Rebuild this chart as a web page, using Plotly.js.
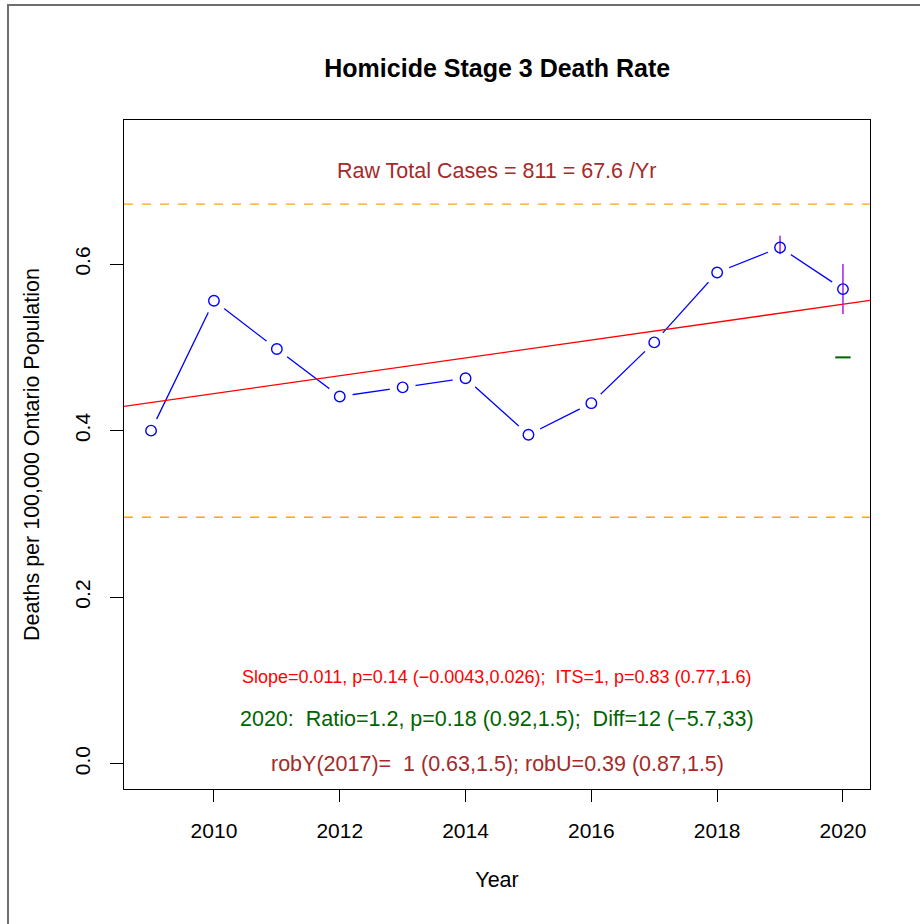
<!DOCTYPE html>
<html>
<head>
<meta charset="utf-8">
<script src="https://cdn.plot.ly/plotly-3.0.1.min.js"></script>
<style>html,body{margin:0;padding:0;background:#fff;}</style>
</head>
<body>
<div id="chart" style="width:920px;height:924px;"></div>
<script>
// ---- data ----
const years = [2009, 2010, 2011, 2012, 2013, 2014, 2015, 2016, 2017, 2018, 2019, 2020];
const rates = [0.400, 0.556, 0.498, 0.441, 0.452, 0.463, 0.395, 0.433, 0.506, 0.590, 0.620, 0.570];
const trendYears = [2008.57, 2020.43];
const trendValues = [0.4291, 0.5564];
const limitLow = 0.296;
const limitHigh = 0.672;
const ciYears = [2019, 2020];
const ciLow = [0.612, 0.540];
const ciHigh = [0.634, 0.600];
const expectedYear = [2020];
const expectedValue = [0.488];
const tickYears = [2010, 2012, 2014, 2016, 2018, 2020];
const tickLabels = ['2010', '2012', '2014', '2016', '2018', '2020'];
const yTicks = [0.0, 0.2, 0.4, 0.6];
const yTickLabels = ['0.0', '0.2', '0.4', '0.6'];
const xRange = [2008.57, 2020.43];
const yRange = [-0.0304, 0.7731];

const FONT = 'Liberation Sans, Arial, Helvetica, sans-serif';
const BASE = 21.5;

// CI bars built from arrays
const ciX = [], ciY = [];
ciYears.forEach((yr, i) => { ciX.push(yr, yr, null); ciY.push(ciLow[i], ciHigh[i], null); });

const traces = [
  { x: years, y: rates, type: 'scatter', mode: 'lines', line: { color: '#0000FF', width: 1.3 }, hoverinfo: 'skip', showlegend: false },
  { x: years, y: rates, type: 'scatter', mode: 'markers', marker: { symbol: 'circle', size: 26, color: '#FFFFFF', line: { width: 0 } }, hoverinfo: 'skip', showlegend: false },
  { x: xRange, y: [limitHigh, limitHigh], type: 'scatter', mode: 'lines', line: { color: '#FFA500', width: 1.3, dash: 'dash' }, showlegend: false },
  { x: xRange, y: [limitLow, limitLow], type: 'scatter', mode: 'lines', line: { color: '#FFA500', width: 1.3, dash: 'dash' }, showlegend: false },
  { x: trendYears, y: trendValues, type: 'scatter', mode: 'lines', line: { color: '#FF0000', width: 1.3 }, showlegend: false },
  { x: ciX, y: ciY, type: 'scatter', mode: 'lines', line: { color: '#A020F0', width: 1.5 }, showlegend: false, connectgaps: false },
  { x: years, y: rates, type: 'scatter', mode: 'markers', marker: { symbol: 'circle-open', size: 10.5, color: '#0000FF', line: { width: 1.4, color: '#0000FF' } }, showlegend: false },
  { x: expectedYear, y: expectedValue, type: 'scatter', mode: 'markers', marker: { symbol: 'line-ew', size: 11, color: '#006400', line: { width: 2, color: '#006400' } }, showlegend: false }
];

const plotTop = 120, plotBottom = 789, plotH = plotBottom - plotTop;
const py = (pix) => (plotBottom - pix) / plotH;

const layout = {
  width: 920, height: 924,
  margin: { l: 124, r: 50, t: 120, b: 135 },
  paper_bgcolor: '#FFFFFF', plot_bgcolor: '#FFFFFF',
  font: { family: FONT, color: '#000000', size: BASE },
  title: { text: '<b>Homicide Stage 3 Death Rate</b>', x: 0.5405, xanchor: 'center', y: 1 - 68 / 924, yanchor: 'middle', font: { family: FONT, size: 25, color: '#000000' } },
  xaxis: {
    range: xRange, tickmode: 'array', tickvals: tickYears, ticktext: tickLabels,
    showgrid: false, zeroline: false, showline: true, mirror: true, linecolor: '#000000', linewidth: 1,
    ticks: 'outside', ticklen: 12, tickcolor: '#000000', tickwidth: 1,
    ticklabelstandoff: 11,
    tickfont: { family: FONT, size: 21, color: '#000000' },
    title: { text: 'Year', font: { family: FONT, size: BASE, color: '#000000' }, standoff: 30 },
    automargin: false
  },
  yaxis: {
    range: yRange, tickmode: 'array', tickvals: yTicks, ticktext: yTickLabels,
    showgrid: false, zeroline: false, showline: true, mirror: true, linecolor: '#000000', linewidth: 1,
    ticks: 'outside', ticklen: 13, tickcolor: '#000000', tickwidth: 1, tickangle: -90,
    ticklabelstandoff: 12,
    tickfont: { family: FONT, size: 21, color: '#000000' },
    title: { text: 'Deaths per 100,000 Ontario Population', font: { family: FONT, size: BASE, color: '#000000' }, standoff: 25 },
    automargin: false
  },
  shapes: [
    { type: 'rect', xref: 'paper', yref: 'paper', x0: (8 - 124) / 746, x1: 1.2, y0: -0.5, y1: py(5), line: { color: '#6E6E6E', width: 2 }, fillcolor: 'rgba(0,0,0,0)', layer: 'below' }
  ],
  annotations: [
    { text: 'Raw Total Cases = 811 = 67.6 /Yr', xref: 'paper', yref: 'paper', x: 0.5, y: py(171), xanchor: 'center', yanchor: 'middle', showarrow: false, font: { family: FONT, size: BASE, color: '#A52A2A' } },
    { text: 'Slope=0.011, p=0.14 (\u22120.0043,0.026);  ITS=1, p=0.83 (0.77,1.6)', xref: 'paper', yref: 'paper', x: 0.5, y: py(677), xanchor: 'center', yanchor: 'middle', showarrow: false, font: { family: FONT, size: 18, color: '#FF0000' } },
    { text: '2020:  Ratio=1.2, p=0.18 (0.92,1.5);  Diff=12 (\u22125.7,33)', xref: 'paper', yref: 'paper', x: 0.5, y: py(719), xanchor: 'center', yanchor: 'middle', showarrow: false, font: { family: FONT, size: BASE, color: '#006400' } },
    { text: 'robY(2017)=  1 (0.63,1.5); robU=0.39 (0.87,1.5)', xref: 'paper', yref: 'paper', x: 0.5, y: py(764), xanchor: 'center', yanchor: 'middle', showarrow: false, font: { family: FONT, size: BASE, color: '#A52A2A' } }
  ],
  showlegend: false
};

Plotly.newPlot('chart', traces, layout, { staticPlot: true, displayModeBar: false });
</script>
</body>
</html>
